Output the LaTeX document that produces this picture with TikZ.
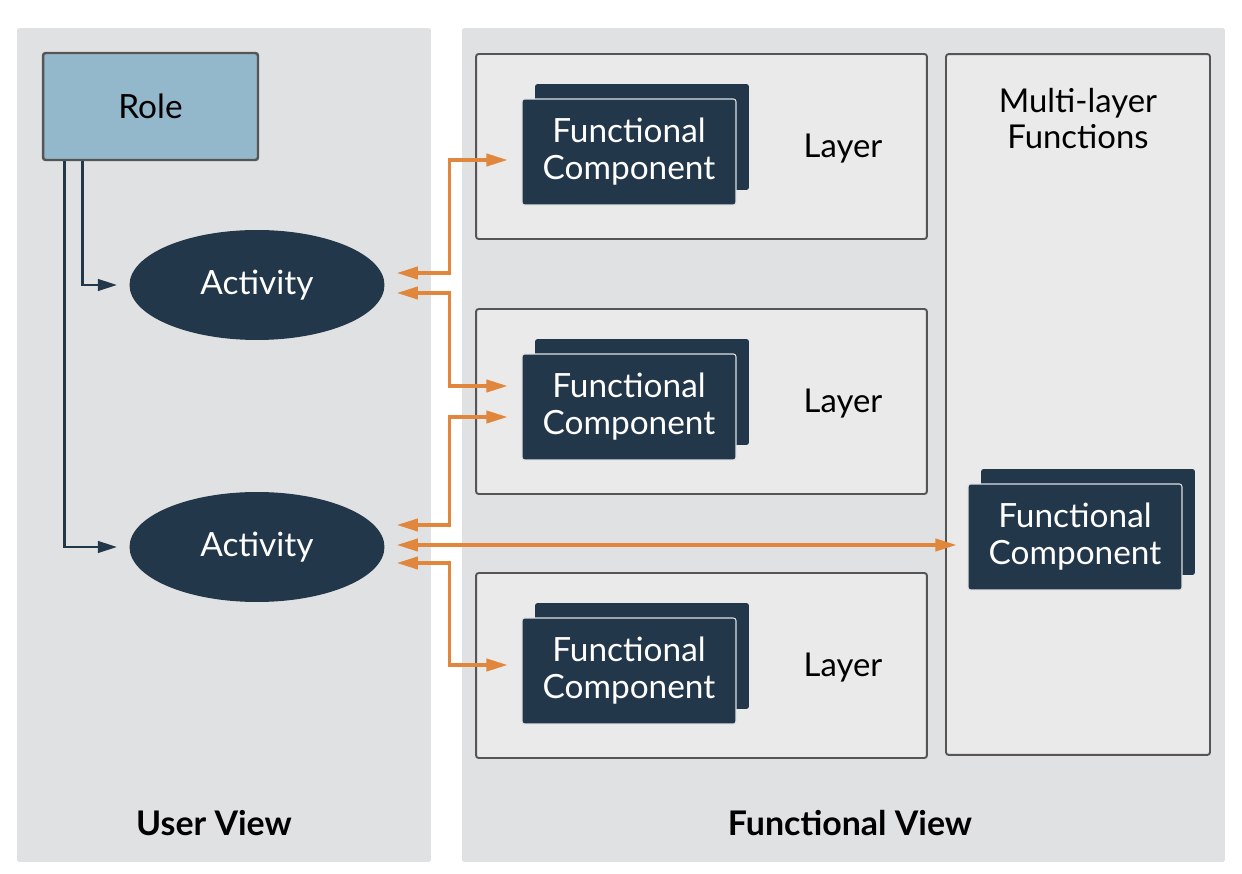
\documentclass[tikz,border=0pt]{standalone}
\usepackage{fontspec}
\setmainfont{Lato}
\usetikzlibrary{shapes.geometric,arrows.meta,calc,positioning}
\definecolor{panel}{HTML}{E0E1E3}
\definecolor{layerfill}{HTML}{EAEAEA}
\definecolor{boxline}{HTML}{555555}
\definecolor{navy}{HTML}{23374B}
\definecolor{rolefill}{HTML}{93B8CB}
\definecolor{orng}{HTML}{E0873D}
\tikzset{
  panelbox/.style={fill=panel,draw=none,minimum width=#1,inner sep=0pt,minimum height=16.68cm,rounded corners=1pt},
  rolebox/.style={fill=rolefill,draw=boxline,line width=1.4pt,minimum width=4.3cm,minimum height=2.14cm,inner sep=0pt,rounded corners=1.5pt,font=\fontsize{19}{22}\selectfont,text=black},
  actnode/.style={ellipse,fill=navy,draw=none,minimum width=5.1cm,minimum height=2.2cm,inner sep=0pt,text=white,font=\fontsize{19}{22}\selectfont},
  layerbox/.style={fill=layerfill,draw=boxline,line width=1.1pt,minimum width=#1,inner sep=0pt,rounded corners=1.5pt},
  fcback/.style={fill=navy,draw=none,minimum width=4.28cm,minimum height=2.12cm,inner sep=0pt,rounded corners=1.5pt},
  fcfront/.style={fill=navy,draw=white!85!navy,line width=0.6pt,minimum width=4.28cm,minimum height=2.12cm,inner sep=0pt,rounded corners=1.5pt,text=white,align=center,font=\fontsize{19}{21}\selectfont},
  lbl/.style={font=\fontsize{18.7}{20.5}\selectfont,text=black,align=center},
  viewlbl/.style={font=\bfseries\fontsize{19.3}{22}\selectfont,text=black},
  oconn/.style={draw=orng,line width=1.8pt,{Triangle[length=12pt,width=7pt]}-{Triangle[length=12pt,width=7pt]}},
  dconn/.style={draw=navy,line width=1.7pt,-{Triangle[length=11pt,width=6.5pt]}}
}
\begin{document}
\begin{tikzpicture}[x=0.02cm,y=-0.02cm]
\fill[white] (0,0) rectangle (1242,874);
\useasboundingbox (0,0) rectangle (1242,874);
% panels
\node[panelbox=8.28cm] (userpanel) at (224,445) {};
\node[panelbox=15.26cm] (funcpanel) at (843.5,445) {};
% layers
\node[layerbox=9.02cm,minimum height=3.7cm] (layer1) at (701.5,146.5) {};
\node[layerbox=9.02cm,minimum height=3.7cm] (layer2) at (701.5,401.5) {};
\node[layerbox=9.02cm,minimum height=3.7cm] (layer3) at (701.5,665.5) {};
\node[layerbox=5.28cm,minimum height=14.02cm] (multi) at (1078,404.5) {};
\node[lbl] (layert1) at (843,149) {Layer};
\node[lbl] (layert2) at (843,404) {Layer};
\node[lbl] (layert3) at (843,668) {Layer};
\node[lbl] (multit) at (1078,119) {Multi-layer\\Functions};
% functional components
\node[fcback] (fc1b) at (642,137) {};
\node[fcfront] (fc1) at (629,152) {Functional\\Component};
\node[fcback] (fc2b) at (642,392) {};
\node[fcfront] (fc2) at (629,407) {Functional\\Component};
\node[fcback] (fc3b) at (642,656) {};
\node[fcfront] (fc3) at (629,671) {Functional\\Component};
\node[fcback] (fc4b) at (1088,522) {};
\node[fcfront] (fc4) at (1075,537) {Functional\\Component};
% user view
\node[rolebox] (role) at (150.5,106.5) {Role};
\node[actnode] (act1) at (257,285) {Activity};
\node[actnode] (act2) at (257,547) {Activity};
\node[viewlbl] (uview) at (214,823) {User View};
\node[viewlbl] (fview) at (850,823) {Functional View};
% dark connectors
\coordinate (r1) at ($(role.south west)+(41,0)$);
\coordinate (r2) at ($(role.south west)+(23,0)$);
\coordinate (a1w) at ($(act1.west)+(-12,0)$);
\coordinate (a2w) at ($(act2.west)+(-12,0)$);
\draw[dconn] (r1) |- (a1w);
\draw[dconn] (r2) |- (a2w);
% orange connectors
\coordinate (a1u) at ($(act1.east)+(12,-12)$);
\coordinate (a1d) at ($(act1.east)+(12,8)$);
\coordinate (a2u) at ($(act2.east)+(12,-22)$);
\coordinate (a2m) at ($(act2.east)+(12,-2)$);
\coordinate (a2d) at ($(act2.east)+(12,16)$);
\coordinate (f1) at ($(fc1.west)+(-14,8)$);
\coordinate (f2u) at ($(fc2.west)+(-14,-21)$);
\coordinate (f2d) at ($(fc2.west)+(-14,10)$);
\coordinate (f3) at ($(fc3.west)+(-14,-6)$);
\coordinate (f4) at ($(fc4.west)+(-11,8)$);
\draw[oconn] (a1u) -- ++(53,0) |- (f1);
\draw[oconn] (a1d) -- ++(53,0) |- (f2u);
\draw[oconn] (a2u) -- ++(53,0) |- (f2d);
\draw[oconn] (a2m) -- (f4);
\draw[oconn] (a2d) -- ++(53,0) |- (f3);
\end{tikzpicture}
\end{document}
